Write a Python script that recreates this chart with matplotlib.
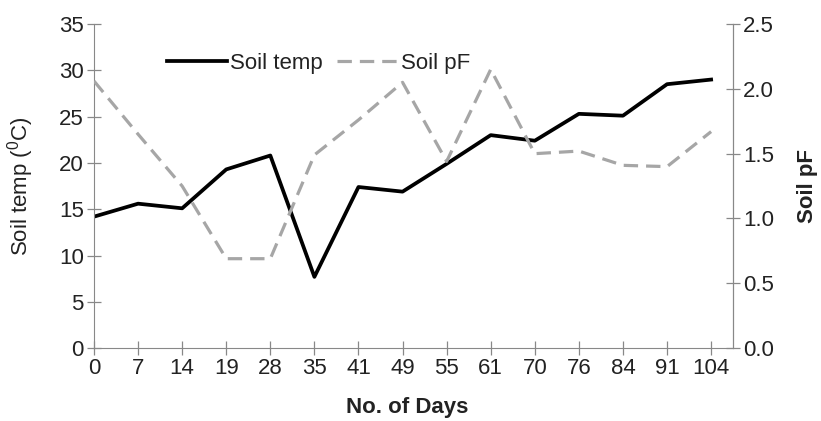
import numpy as np
import matplotlib.pyplot as plt

plt.rcParams['font.family'] = ['Liberation Sans', 'DejaVu Sans']
plt.rcParams['mathtext.fontset'] = 'custom'
plt.rcParams['mathtext.rm'] = 'Liberation Sans'

# --- Data ---
days = ["0", "7", "14", "19", "28", "35", "41", "49", "55", "61", "70", "76", "84", "91", "104"]
soil_temp = [14.2, 15.6, 15.1, 19.3, 20.8, 7.7, 17.4, 16.9, 19.9, 23.0, 22.4, 25.3, 25.1, 28.5, 29.0]
soil_pf = [2.06, 1.65, 1.25, 0.69, 0.69, 1.49, 1.76, 2.05, 1.44, 2.15, 1.50, 1.52, 1.41, 1.40, 1.67]

axis_grey = "#888888"
pf_grey = "#a6a6a6"
text_col = "#222222"
fs = 16

fig = plt.figure(figsize=(8.21, 4.21), dpi=100)
ax = fig.add_axes([0.1145, 0.173, 0.7785, 0.77])
ax2 = ax.twinx()

x = np.arange(len(days))
l1, = ax.plot(x, soil_temp, color="black", lw=2.7, label="Soil temp")
l2, = ax2.plot(x, soil_pf, color=pf_grey, lw=2.3, dashes=(4.5, 2.5), label="Soil pF")

ax.set_xlim(0, len(days) - 0.5)
ax.set_ylim(0, 35)
ax2.set_ylim(0, 2.5)
ax.set_xticks(x)
ax.set_xticklabels(days)
ax.set_yticks(range(0, 36, 5))
ax2.set_yticks(np.arange(0, 2.51, 0.5))
ax2.set_yticklabels([f"{v:.1f}" for v in np.arange(0, 2.51, 0.5)])

for a in (ax, ax2):
    a.spines["top"].set_visible(False)
    for s in ("left", "right", "bottom"):
        a.spines[s].set_color(axis_grey)
    a.tick_params(direction="inout", length=10.5, width=0.9, color=axis_grey,
                  labelsize=fs, labelcolor=text_col, pad=2)
ax2.spines["left"].set_visible(False)
ax2.spines["bottom"].set_visible(False)

ax.set_xlabel("No. of Days", fontsize=fs, fontweight="bold", color=text_col)
ax.set_ylabel(r"Soil temp ($\mathregular{^0}$C)", fontsize=fs, color=text_col)
ax2.set_ylabel("Soil pF", fontsize=fs, fontweight="bold", color=text_col)
ax.xaxis.set_label_coords(0.49, -0.15)
ax.yaxis.set_label_coords(-0.09, 0.5)
ax2.yaxis.set_label_coords(1.1, 0.5)

fig.legend(handles=[l1, l2], loc="center left", bbox_to_anchor=(0.203, 0.85),
           ncol=2, frameon=False, fontsize=fs, handlelength=2.7,
           handletextpad=0.15, columnspacing=0.65, borderpad=0,
           borderaxespad=0, labelcolor=text_col)

fig.savefig("out.png", dpi=100)
